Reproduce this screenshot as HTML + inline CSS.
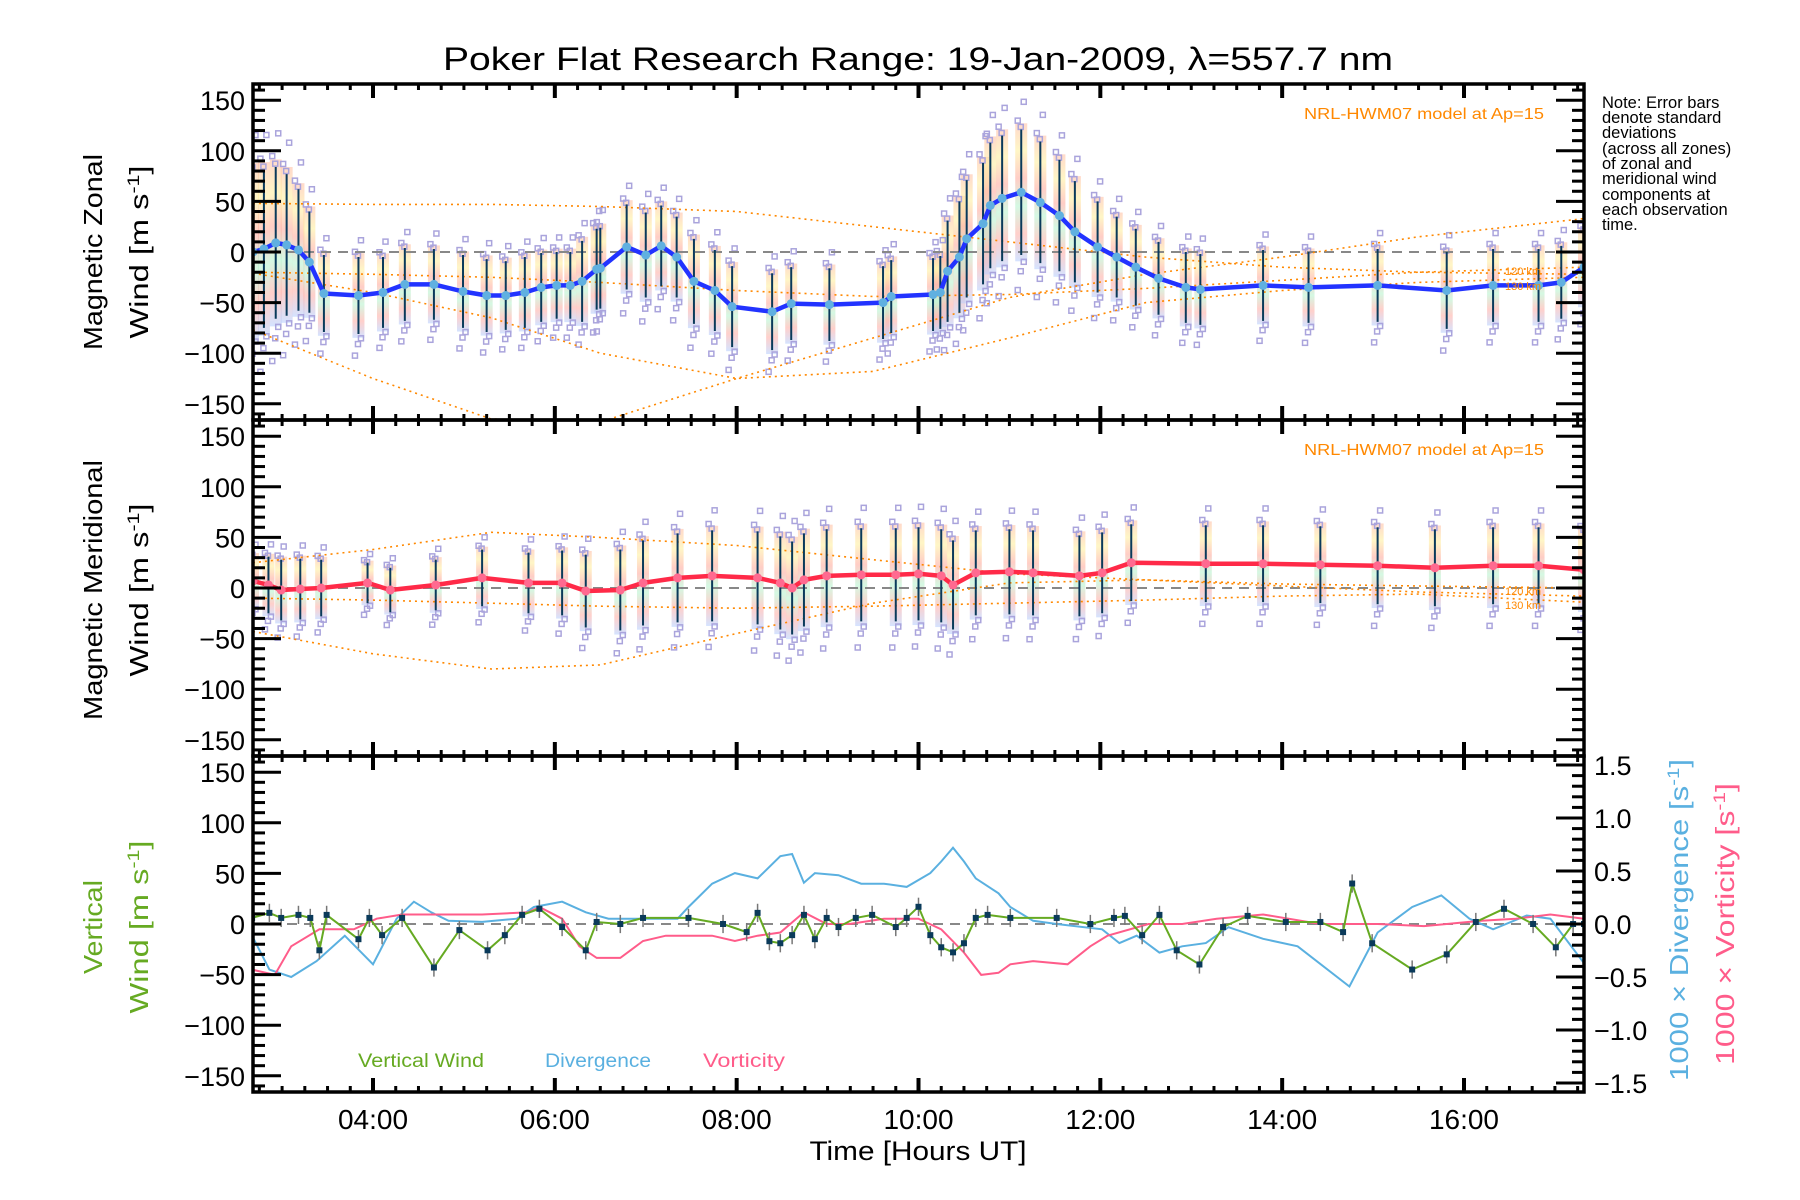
<!DOCTYPE html>
<html><head><meta charset="utf-8">
<style>
html,body{margin:0;padding:0;background:#fff;}
svg{display:block;font-family:"Liberation Sans",sans-serif;}
</style></head>
<body>
<svg id="chart" width="1800" height="1200" viewBox="0 0 1800 1200" xmlns="http://www.w3.org/2000/svg">
<defs>
<linearGradient id="pastel" x1="0" y1="0" x2="0" y2="1">
<stop offset="0" stop-color="#ffc0a8"/><stop offset="0.2" stop-color="#fff0a0"/><stop offset="0.4" stop-color="#ffaca0"/><stop offset="0.6" stop-color="#b8f4d0"/><stop offset="0.8" stop-color="#ffb0a8"/><stop offset="1" stop-color="#b8d0ff"/>
</linearGradient>
</defs>
<text x="918" y="70" font-size="32" text-anchor="middle" textLength="950" lengthAdjust="spacingAndGlyphs">Poker Flat Research Range: 19-Jan-2009, λ=557.7 nm</text>
<g id="marks"></g>
<g id="axes"></g>
<g>
<text transform="translate(102,252) rotate(-90)" font-size="26" text-anchor="middle" textLength="196" lengthAdjust="spacingAndGlyphs">Magnetic Zonal</text>
<text transform="translate(148,252) rotate(-90)" font-size="26" text-anchor="middle" textLength="173" lengthAdjust="spacingAndGlyphs">Wind [m s<tspan baseline-shift="super" font-size="17">-1</tspan>]</text>
</g>
<g>
<text transform="translate(102,590) rotate(-90)" font-size="26" text-anchor="middle" textLength="260" lengthAdjust="spacingAndGlyphs">Magnetic Meridional</text>
<text transform="translate(148,590) rotate(-90)" font-size="26" text-anchor="middle" textLength="173" lengthAdjust="spacingAndGlyphs">Wind [m s<tspan baseline-shift="super" font-size="17">-1</tspan>]</text>
</g>
<g fill="#66aa22">
<text transform="translate(102,927) rotate(-90)" font-size="26" text-anchor="middle" textLength="94" lengthAdjust="spacingAndGlyphs">Vertical</text>
<text transform="translate(148,927) rotate(-90)" font-size="26" text-anchor="middle" textLength="173" lengthAdjust="spacingAndGlyphs">Wind [m s<tspan baseline-shift="super" font-size="17">-1</tspan>]</text>
</g>
<text transform="translate(1688,920) rotate(-90)" font-size="26" text-anchor="middle" fill="#5ab0e0" textLength="322" lengthAdjust="spacingAndGlyphs">1000 × Divergence [s<tspan baseline-shift="super" font-size="17">-1</tspan>]</text>
<text transform="translate(1734,924) rotate(-90)" font-size="26" text-anchor="middle" fill="#ff5c8a" textLength="282" lengthAdjust="spacingAndGlyphs">1000 × Vorticity [s<tspan baseline-shift="super" font-size="17">-1</tspan>]</text>
<g font-size="16.5">
<text x="1602" y="108">Note: Error bars</text>
<text x="1602" y="123">denote standard</text>
<text x="1602" y="138">deviations</text>
<text x="1602" y="154">(across all zones)</text>
<text x="1602" y="169">of zonal and</text>
<text x="1602" y="184">meridional wind</text>
<text x="1602" y="200">components at</text>
<text x="1602" y="215">each observation</text>
<text x="1602" y="230">time.</text>
</g>
<text x="1544" y="119" font-size="16" text-anchor="end" fill="#ff8800" textLength="240" lengthAdjust="spacingAndGlyphs">NRL-HWM07 model at Ap=15</text>
<text x="1544" y="455" font-size="16" text-anchor="end" fill="#ff8800" textLength="240" lengthAdjust="spacingAndGlyphs">NRL-HWM07 model at Ap=15</text>
<g font-size="11" fill="#ff8800">
<text x="1505" y="275">120 km</text>
<text x="1505" y="290">130 km</text>
<text x="1505" y="595">120 km</text>
<text x="1505" y="609">130 km</text>
</g>
<g font-size="19">
<text x="358" y="1067" fill="#66aa22" textLength="126" lengthAdjust="spacingAndGlyphs">Vertical Wind</text>
<text x="545" y="1067" fill="#5ab0e0" textLength="106" lengthAdjust="spacingAndGlyphs">Divergence</text>
<text x="703" y="1067" fill="#ff5c8a" textLength="82" lengthAdjust="spacingAndGlyphs">Vorticity</text>
</g>
<text x="918" y="1160" font-size="27" text-anchor="middle" textLength="217" lengthAdjust="spacingAndGlyphs">Time [Hours UT]</text>
</svg>
<script>
// ---- data ----
const zonalT = [2.68,2.80,2.93,3.05,3.18,3.30,3.46,3.84,4.11,4.35,4.67,4.99,5.25,5.46,5.67,5.85,6.02,6.17,6.30,6.46,6.50,6.79,7.00,7.17,7.34,7.53,7.76,7.95,8.39,8.60,9.02,9.61,9.70,10.16,10.24,10.32,10.45,10.53,10.71,10.79,10.92,11.13,11.34,11.55,11.72,11.97,12.18,12.39,12.64,12.94,13.10,13.79,14.29,15.05,15.81,16.32,16.82,17.07,17.32];
const zonalV = [0,3,9,7,2,-10,-41,-43,-40,-32,-32,-39,-43,-43,-40,-35,-33,-33,-29,-17,-16,5,-3,6,-5,-29,-38,-54,-59,-51,-52,-50,-44,-42,-40,-19,-5,13,28,46,53,59,49,36,20,5,-5,-15,-26,-35,-37,-33,-35,-33,-38,-33,-33,-30,-15];
const zonalS = [80,78,75,70,60,50,38,38,35,36,35,36,36,34,35,34,33,33,40,40,40,42,42,40,40,42,40,40,38,36,36,36,36,36,36,50,55,58,60,62,62,62,60,55,50,45,40,38,36,35,35,35,35,36,38,36,36,36,36];

const merT = [2.68,2.85,2.99,3.20,3.43,3.94,4.19,4.69,5.20,5.71,6.08,6.34,6.72,6.97,7.35,7.73,8.23,8.48,8.61,8.74,8.99,9.37,9.75,10.00,10.25,10.38,10.63,11.00,11.26,11.77,12.02,12.34,13.16,13.79,14.42,15.05,15.68,16.32,16.82,17.32];
const merV = [7,3,-2,-1,0,5,-2,3,10,5,5,-3,-2,5,10,12,10,5,0,8,12,13,13,14,12,3,15,16,15,12,15,25,24,24,23,22,20,22,22,18];
const merS = [25,28,30,30,28,20,22,25,28,30,32,36,40,42,44,45,46,46,46,46,46,46,46,46,46,44,42,42,42,40,40,38,38,38,38,38,38,38,38,38];

const vertT = [2.67,2.86,2.99,3.18,3.31,3.41,3.49,3.84,3.96,4.10,4.32,4.67,4.95,5.26,5.45,5.64,5.83,6.08,6.34,6.46,6.72,6.97,7.47,7.85,8.11,8.23,8.36,8.48,8.61,8.74,8.86,8.99,9.12,9.31,9.49,9.75,9.87,10.00,10.13,10.25,10.38,10.50,10.63,10.76,11.01,11.52,11.89,12.15,12.27,12.46,12.65,12.84,13.09,13.35,13.62,14.04,14.42,14.67,14.77,14.99,15.43,15.81,16.13,16.44,16.76,17.01,17.20,17.32];
const vertV = [6,11,6,9,6,-26,9,-15,6,-11,6,-43,-6,-26,-11,9,15,-3,-26,2,0,6,6,0,-8,11,-17,-19,-11,9,-15,6,-3,6,9,-3,6,17,-11,-23,-28,-19,6,9,6,6,0,6,8,-11,9,-26,-40,-3,8,2,2,-8,40,-19,-45,-30,2,15,0,-23,0,0];

const divT = [2.67,2.86,3.10,3.38,3.69,4.00,4.26,4.45,4.64,4.83,5.20,5.58,5.77,6.08,6.34,6.59,7.35,7.47,7.73,7.98,8.23,8.48,8.61,8.74,8.86,9.12,9.37,9.62,9.87,10.13,10.25,10.38,10.50,10.63,10.88,11.01,11.26,11.52,12.02,12.21,12.40,12.65,12.90,13.16,13.41,13.79,14.17,14.74,15.05,15.43,15.75,16.06,16.32,16.69,16.95,17.32];
const divV = [-0.11,-0.43,-0.50,-0.35,-0.11,-0.38,0.05,0.21,0.11,0.03,0.02,0.05,0.16,0.21,0.11,0.05,0.05,0.16,0.38,0.48,0.43,0.64,0.66,0.39,0.48,0.46,0.38,0.38,0.35,0.48,0.59,0.72,0.59,0.43,0.29,0.16,0.03,0.00,-0.05,-0.18,-0.11,-0.27,-0.21,-0.18,-0.03,-0.14,-0.21,-0.59,-0.08,0.16,0.27,0.05,-0.05,0.08,0.05,-0.37];

const vorT = [2.67,2.92,3.10,3.41,3.79,4.04,4.32,4.70,5.20,5.71,5.83,6.08,6.27,6.46,6.72,6.97,7.22,7.73,7.98,8.23,8.48,8.74,8.99,9.24,9.62,10.00,10.25,10.50,10.69,10.88,11.01,11.26,11.64,11.89,12.08,12.53,12.90,13.28,13.79,14.42,15.05,15.56,16.19,16.57,16.95,17.32];
const vorV = [-0.43,-0.48,-0.21,-0.05,-0.05,0.05,0.09,0.09,0.09,0.11,0.16,0.05,-0.21,-0.32,-0.32,-0.16,-0.11,-0.11,-0.16,-0.11,-0.08,0.11,0.00,0.00,0.05,0.05,-0.05,-0.27,-0.48,-0.46,-0.38,-0.35,-0.38,-0.21,-0.11,0.00,0.00,0.05,0.09,0.00,0.00,-0.02,0.03,0.05,0.09,0.05];

// model curves (NRL-HWM07)
const modelT = [2.68,4.0,5.3,6.5,8.0,9.5,11.0,12.5,14.0,15.5,17.32];
const zModelA = [48,47,47,45,40,25,10,-5,-15,-20,-22];
const zModelB = [-21,-40,-65,-100,-125,-118,-85,-50,-38,-30,-25];
const zModelC = [-77,-125,-165,-168,-125,-85,-45,-22,-5,15,33];
const zModelD = [-20,-22,-25,-30,-38,-44,-42,-36,-28,-20,-15];
const mModelA = [25,38,55,50,42,28,14,8,4,2,0];
const mModelB = [-43,-65,-80,-76,-45,-15,5,8,2,-4,-8];
const mModelC = [-10,-12,-15,-18,-20,-18,-15,-12,-8,-6,-14];

const hourTicks = [4,6,8,10,12,14,16];
const hourLabels = ["04:00","06:00","08:00","10:00","12:00","14:00","16:00"];
const windTicks = [150,100,50,0,-50,-100,-150];
const rightTicks = [1.5,1.0,0.5,0.0,-0.5,-1.0,-1.5];
const rightLabels = ["1.5","1.0","0.5","0.0","\u22120.5","\u22121.0","\u22121.5"];
const scatterMult = [1.15,-1.25,1.45,-1.55,1.05,-1.1];

// ---- geometry ----
const NS='http://www.w3.org/2000/svg';
const X0=253,X1=1584,TMIN=2.68,TMAX=17.32;
const TOPS=[84,420,756],PH=336,VR=166,RR=1.585;
const xs=t=>X0+(t-TMIN)/(TMAX-TMIN)*(X1-X0);
const ys=(p,v)=>TOPS[p]+PH/2-v*(PH/2)/VR;
const yr=v=>TOPS[2]+PH/2-v*(PH/2)/RR;
const marks=document.getElementById('marks'),axes=document.getElementById('axes');
function mk(tag,attrs,parent){const e=document.createElementNS(NS,tag);for(const k in attrs)e.setAttribute(k,attrs[k]);(parent||marks).appendChild(e);return e;}
function clipG(p,name){const g=mk('g',{'clip-path':'url(#clip'+p+')'});return g;}
const defs=document.querySelector('defs');
[0,1,2].forEach(p=>{const c=mk('clipPath',{id:'clip'+p},defs);mk('rect',{x:X0,y:TOPS[p],width:X1-X0,height:PH},c);});

function polyline(g,T,V,fy,attrs){const pts=T.map((t,i)=>xs(t).toFixed(1)+','+fy(V[i]).toFixed(1)).join(' ');return mk('polyline',Object.assign({points:pts,fill:'none'},attrs),g);}

function windPanel(p,T,V,S,models,lineCol,dotCol,name){
  const g=clipG(p,name+'-panel-marks');
  T.forEach((t,i)=>{const r=mk('rect',{x:xs(t)-6,y:ys(p,V[i]+S[i]*1.1),width:12,height:(ys(p,V[i]-S[i]*1.1)-ys(p,V[i]+S[i]*1.1)),fill:'url(#pastel)',opacity:0.6},g);
    
    });
  T.forEach((t,i)=>{scatterMult.forEach((m,j)=>{const r=mk('rect',{x:xs(t)-3+((j%3)-1)*3,y:ys(p,V[i]+m*S[i])-2,width:5,height:5,fill:'none',stroke:'#aaa4dc','stroke-width':1.5},g);
    
    });});
  const z=mk('line',{x1:X0,x2:X1,y1:ys(p,0),y2:ys(p,0),stroke:'#888','stroke-width':2,'stroke-dasharray':'10,7'},g);
  
  
  models.forEach(M=>{const e=polyline(g,modelT,M,v=>ys(p,v),{stroke:'#ff8800','stroke-width':1.6,'stroke-dasharray':'2,4'});
    
    });
  T.forEach((t,i)=>{const l=mk('line',{x1:xs(t),x2:xs(t),y1:ys(p,V[i]+S[i]),y2:ys(p,V[i]-S[i]),stroke:'#0a3a5a','stroke-width':2},g);
    
    });
  const ln=polyline(g,T,V,v=>ys(p,v),{stroke:lineCol,'stroke-width':4.5,'stroke-linejoin':'round'});
  
  
  T.forEach((t,i)=>{const c=mk('circle',{cx:xs(t),cy:ys(p,V[i]),r:4.5,fill:dotCol},g);
    
    });
}
windPanel(0,zonalT,zonalV,zonalS,[zModelA,zModelB,zModelC,zModelD],'#2233ff','#60b0e0','zonal');
windPanel(1,merT,merV,merS,[mModelA,mModelB,mModelC],'#ff2a48','#ff6a90','meridional');

(function(){
  const g=clipG(2,'vertical-panel-marks');
  const z=mk('line',{x1:X0,x2:X1,y1:ys(2,0),y2:ys(2,0),stroke:'#888','stroke-width':2,'stroke-dasharray':'10,7'},g);
  
  
  const d=polyline(g,divT,divV,yr,{stroke:'#5ab0e0','stroke-width':2});
  
  
  const v=polyline(g,vorT,vorV,yr,{stroke:'#ff5c8a','stroke-width':2});
  
  
  vertT.forEach((t,i)=>{const l=mk('line',{x1:xs(t),x2:xs(t),y1:ys(2,vertV[i]+9),y2:ys(2,vertV[i]-9),stroke:'#777','stroke-width':1.5},g);
    
    });
  const w=polyline(g,vertT,vertV,v=>ys(2,v),{stroke:'#66aa22','stroke-width':2});
  
  
  vertT.forEach((t,i)=>{const r=mk('rect',{x:xs(t)-3,y:ys(2,vertV[i])-3,width:6,height:6,fill:'#0a3a5a'},g);
    
    });
})();

const A=(tag,attrs)=>mk(tag,attrs,axes);
[0,1,2].forEach(p=>{
  const top=TOPS[p],bot=top+PH;
  const fr=A('rect',{x:X0,y:top,width:X1-X0,height:PH,fill:'none',stroke:'#000','stroke-width':3.5});
  
  
  for(let v=-160;v<=160;v+=10){const y=ys(p,v);const major=v%50===0;const L=major?28:12;
    A('line',{x1:X0,x2:X0+L,y1:y,y2:y,stroke:'#000','stroke-width':3});
    if(p<2)A('line',{x1:X1,x2:X1-L,y1:y,y2:y,stroke:'#000','stroke-width':3});}
  windTicks.forEach(v=>{const t=A('text',{x:X0-8,y:ys(p,v)+10,'font-size':27,'text-anchor':'end'});t.textContent=v<0?'\u2212'+(-v):String(v);
    
    });
  for(let t=2.75;t<TMAX;t+=0.25){const x=xs(t);const major=Math.abs(t-Math.round(t))<1e-6&&Math.round(t)%2===0;const L=major?14:6;
    A('line',{x1:x,x2:x,y1:top,y2:top+L,stroke:'#000','stroke-width':major?4:3});
    A('line',{x1:x,x2:x,y1:bot,y2:bot-L,stroke:'#000','stroke-width':major?4:3});}
});
for(let k=-15;k<=15;k++){const v=k/10;const y=yr(v);const major=k%5===0;const L=major?28:12;
  A('line',{x1:X1,x2:X1-L,y1:y,y2:y,stroke:'#000','stroke-width':3});}
rightTicks.forEach((v,i)=>{const t=A('text',{x:X1+10,y:yr(v)+10,'font-size':27});t.textContent=rightLabels[i];
  
  });
hourTicks.forEach((h,i)=>{const t=A('text',{x:xs(h),y:1129,'font-size':28,'text-anchor':'middle'});t.textContent=hourLabels[i];
  
  });
</script>
</body></html>
